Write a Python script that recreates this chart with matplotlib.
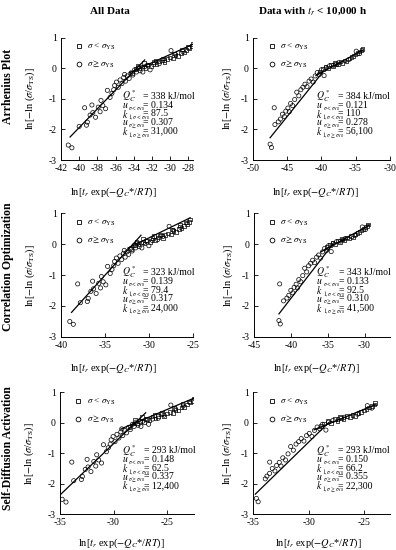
import numpy as np
import matplotlib.pyplot as plt
import matplotlib
from matplotlib.lines import Line2D

matplotlib.rcParams['font.family'] = ['Liberation Serif', 'DejaVu Serif']
matplotlib.rcParams['mathtext.fontset'] = 'stix'
matplotlib.rcParams['axes.unicode_minus'] = False

# ---- left column: all data ----
# y = ln[-ln(sigma/sigma_TS)] is the same in every row, only x moves with Q
y_circ_all = [-2.51, -2.60, -1.90, -1.29, -1.86, -1.76, -1.53, -1.45, -1.60, -1.27,
              -1.42, -1.05, -1.22, -1.32, -0.72, -0.95, -0.82, -0.56, -0.45, -0.62,
              -0.38, -0.50, -0.30, -0.42, -0.25, -0.33, -0.15, -0.22, -0.05, -0.12,
              0.02, -0.08, -0.12, 0.05, 0.10, -0.05, 0.12, 0.15, 0.25, 0.58,
              0.45, 0.55, -0.70, -0.20, -1.20]
x_circ_all_arr = [-41.2, -40.8, -40.0, -39.4, -39.2, -39.1, -38.8, -38.5, -38.2, -37.9,
                  -37.7, -37.6, -37.4, -37.1, -36.9, -36.6, -36.4, -36.1, -35.9, -35.7,
                  -35.5, -35.3, -35.1, -34.9, -34.7, -34.5, -34.3, -34.1, -33.9, -33.7,
                  -33.5, -33.3, -33.0, -32.8, -32.5, -32.2, -31.8, -31.2, -30.6, -29.9,
                  -29.4, -28.6, -36.2, -35.0, -38.6]
x_circ_all_co = [-39.0, -38.6, -37.8, -38.1, -37.0, -36.9, -36.6, -36.3, -36.0, -35.7,
                 -35.5, -35.4, -35.2, -34.9, -34.7, -34.4, -34.2, -33.9, -33.7, -33.5,
                 -33.3, -33.1, -32.9, -32.7, -32.5, -32.3, -32.1, -31.9, -31.7, -31.5,
                 -31.3, -31.1, -30.8, -30.6, -30.3, -30.0, -29.6, -29.0, -28.4, -27.7,
                 -27.2, -26.4, -34.0, -32.8, -36.4]
x_circ_all_sd = [-34.80, -34.44, -33.72, -33.90, -33.00, -32.91, -32.64, -32.38, -32.11, -31.84,
                 -31.66, -31.57, -31.39, -31.12, -30.94, -30.67, -30.49, -30.22, -30.04, -29.86,
                 -29.68, -29.50, -29.32, -29.14, -28.96, -28.78, -28.60, -28.42, -28.24, -28.07,
                 -27.89, -27.71, -27.44, -27.26, -26.99, -26.72, -26.36, -25.82, -25.28, -24.65,
                 -24.20, -23.49, -30.31, -29.23, -32.47]

y_sq_all = [-0.15, -0.02, 0.00, 0.06, 0.02, 0.12, 0.08, 0.20, 0.14, 0.22,
            0.28, 0.20, 0.30, 0.35, 0.32, 0.42, 0.40, 0.50, 0.52, 0.60,
            0.66, 0.72, 0.80, 0.70, 0.62, 0.48, 0.32, 0.26, 0.18, 0.08]
x_sq_all_arr = [-34.2, -33.8, -33.4, -33.1, -32.7, -32.4, -32.1, -31.8, -31.5, -31.2,
                -30.9, -30.6, -30.3, -30.0, -29.7, -29.4, -29.1, -28.8, -28.5, -28.2,
                -27.9, -27.6, -27.5, -28.0, -28.7, -29.6, -30.8, -31.6, -32.9, -33.6]
x_sq_all_co = [-32.0, -31.6, -31.2, -30.9, -30.5, -30.2, -29.9, -29.6, -29.3, -29.0,
               -28.7, -28.4, -28.1, -27.8, -27.5, -27.2, -26.9, -26.6, -26.3, -26.0,
               -25.7, -25.4, -25.3, -25.8, -26.5, -27.4, -28.6, -29.4, -30.7, -31.4]
x_sq_all_sd = [-28.51, -28.15, -27.80, -27.53, -27.17, -26.90, -26.63, -26.36, -26.09, -25.82,
               -25.55, -25.28, -25.01, -24.74, -24.47, -24.20, -23.93, -23.66, -23.39, -23.11,
               -22.84, -22.57, -22.48, -22.93, -23.57, -24.38, -25.46, -26.18, -27.35, -27.98]

# ---- right column: data with t_r < 10,000 h ----
y_circ_sub = [-2.48, -2.59, -1.84, -1.29, -1.75, -1.66, -1.50, -1.58, -1.40, -1.30,
              -1.42, -1.15, -1.22, -1.02, -0.78, -0.90, -0.70, -0.62, -0.52, -0.60,
              -0.42, -0.35, -0.45, -0.25, -0.14, -0.20, -0.05, -0.24, 0.02, 0.08,
              0.10, 0.18, 0.28, 0.56, 0.48]
x_circ_sub_arr = [-47.5, -47.3, -46.8, -46.9, -46.3, -46.0, -45.7, -45.4, -45.2, -44.9,
                  -44.7, -44.5, -44.2, -43.9, -43.6, -43.3, -43.0, -42.7, -42.4, -42.1,
                  -41.8, -41.5, -41.2, -40.9, -40.6, -40.3, -40.0, -39.6, -39.3, -38.8,
                  -38.2, -37.5, -36.0, -34.9, -34.4]
x_circ_sub_co = [-41.60, -41.42, -40.97, -41.50, -40.52, -40.26, -39.99, -39.72, -39.54, -39.27,
                 -39.09, -38.91, -38.64, -38.37, -38.11, -37.84, -37.57, -37.30, -37.03, -36.76,
                 -36.49, -36.22, -35.96, -35.69, -35.42, -35.15, -34.88, -34.52, -34.25, -33.80,
                 -33.27, -32.64, -31.30, -30.31, -29.86]
x_circ_sub_sd = [-34.70, -34.54, -33.90, -33.50, -33.75, -33.51, -33.27, -33.03, -32.88, -32.64,
                 -32.48, -32.32, -32.08, -31.85, -31.61, -31.37, -31.13, -30.89, -30.66, -30.42,
                 -30.18, -29.94, -29.70, -29.47, -29.23, -28.99, -28.75, -28.44, -28.20, -27.80,
                 -27.33, -26.77, -25.58, -24.71, -24.31]

y_sq_sub = [-0.10, -0.02, 0.05, 0.00, 0.12, 0.06, 0.15, 0.12, 0.22, 0.18,
            0.26, 0.22, 0.32, 0.36, 0.40, 0.45, 0.50, 0.55, 0.60, 0.64, 0.18]
x_sq_sub_arr = [-40.2, -39.8, -39.4, -39.0, -38.6, -38.3, -37.9, -37.6, -37.2, -36.9,
                -36.6, -36.3, -35.9, -35.6, -35.3, -35.0, -34.7, -34.4, -34.1, -34.0, -38.0]
x_sq_sub_co = [-35.06, -34.70, -34.34, -33.98, -33.63, -33.36, -33.00, -32.73, -32.37, -32.10,
               -31.83, -31.56, -31.21, -30.94, -30.67, -30.40, -30.13, -29.86, -29.59, -29.50, -33.09]
x_sq_sub_sd = [-28.91, -28.59, -28.28, -27.96, -27.64, -27.40, -27.09, -26.85, -26.53, -26.29,
               -26.06, -25.82, -25.50, -25.27, -25.03, -24.79, -24.55, -24.31, -24.07, -23.99, -27.17]

# fitted parameters printed in each panel (arr, co, sd) x (all, sub)
Qc = [[338, 384], [323, 343], [293, 293]]
u_lo = [[0.134, 0.121], [0.139, 0.133], [0.148, 0.150]]
k_lo = [[87.5, 110], [79.4, 92.5], [62.5, 66.2]]
u_hi = [[0.307, 0.278], [0.317, 0.310], [0.337, 0.355]]
k_hi = [[31000, 56100], [24000, 41500], [12400, 22300]]
# x range of the two fit lines
steep_x = [[(-41.0, -32.8), (-47.5, -39.7)], [(-38.8, -30.9), (-41.6, -34.3)], [(-34.9, -27.0), (-34.8, -28.2)]]
flat_x = [[(-34.5, -27.5), (-40.8, -33.9)], [(-32.4, -25.3), (-35.9, -29.4)], [(-29.3, -22.5), (-29.5, -24.0)]]

xlims = [[(-42, -27.5), (-50, -30)], [(-40, -25), (-45, -26.6)], [(-35, -22.5), (-35, -22.7)]]
xticks = [[np.arange(-42, -27, 2), np.arange(-50, -29, 5)],
          [np.arange(-40, -24, 5), np.arange(-45, -29, 5)],
          [np.arange(-35, -24, 5), np.arange(-35, -24, 5)]]

row_names = ['Arrhenius Plot', 'Correlation Optimization', 'Self-Diffusion Activation']
col_names = ['All Data', r'Data with $t_r$ < 10,000 h']

xc = [[x_circ_all_arr, x_circ_sub_arr], [x_circ_all_co, x_circ_sub_co], [x_circ_all_sd, x_circ_sub_sd]]
xs = [[x_sq_all_arr, x_sq_sub_arr], [x_sq_all_co, x_sq_sub_co], [x_sq_all_sd, x_sq_sub_sd]]
yc = [y_circ_all, y_circ_sub]
ys = [y_sq_all, y_sq_sub]

fig = plt.figure(figsize=(3.96, 5.5), dpi=100)

rects = [[[0.154, 0.709, 0.333, 0.2224], [0.639, 0.709, 0.345, 0.2224]],
         [[0.154, 0.388, 0.333, 0.224], [0.641, 0.388, 0.343, 0.224]],
         [[0.1515, 0.065, 0.338, 0.2218], [0.639, 0.065, 0.345, 0.2218]]]
xlab_x = [[0.40, 0.46], [0.40, 0.46], [0.46, 0.48]]
xlab_y = [-0.21, -0.2, -0.185]
ylab_x = [-0.18, -0.14]

# pieces of the parameter names: main letter + small subscript
par_letter = ['u', 'k', 'u', 'k']
par_sub = [r'$\sigma<\sigma_{\rm YS}$', r'$1,\sigma<\sigma_{\rm YS}$',
           r'$\sigma\geq\sigma_{\rm YS}$', r'$1,\sigma\geq\sigma_{\rm YS}$']

for r in range(3):
    for c in range(2):
        ax = fig.add_axes(rects[r][c])
        ax.scatter(xc[r][c], yc[c], s=9, facecolors='none', edgecolors='black', linewidths=0.5, zorder=3)
        ax.scatter(xs[r][c], ys[c], s=7, marker='s', facecolors='none', edgecolors='black', linewidths=0.5, zorder=3)

        # fit lines: y = u x + ln k
        xx = np.array(steep_x[r][c])
        ax.plot(xx, u_hi[r][c] * xx + np.log(k_hi[r][c]), color='black', lw=0.9, zorder=4)
        xx = np.array(flat_x[r][c])
        ax.plot(xx, u_lo[r][c] * xx + np.log(k_lo[r][c]), color='black', lw=0.9, zorder=4)

        ax.set_xlim(xlims[r][c])
        ax.set_ylim(-3, 1)
        ax.set_xticks(xticks[r][c])
        ax.set_yticks([-3, -2, -1, 0, 1])
        ax.tick_params(direction='in', length=3, width=0.6, labelsize=7, pad=3)
        for s in ['top', 'right']:
            ax.spines[s].set_visible(False)
        for s in ['left', 'bottom']:
            ax.spines[s].set_linewidth(0.7)

        ax.set_ylabel(r'ln[$-$ln ($\sigma$/$\sigma_{\rm TS}$)]', fontsize=7.5)
        ax.yaxis.set_label_coords(ylab_x[c], 0.5)
        ax.set_xlabel(r'ln[$t_r$ exp($-Q_C$*/$RT$)]', fontsize=7.5)
        ax.xaxis.set_label_coords(xlab_x[r][c], xlab_y[r])

        handles = [Line2D([], [], ls='none', marker='s', ms=3.2, mfc='none', mec='black', mew=0.6),
                   Line2D([], [], ls='none', marker='o', ms=3.4, mfc='none', mec='black', mew=0.6)]
        ax.legend(handles, [r'$\sigma$ < $\sigma_{\rm YS}$', r'$\sigma \geq \sigma_{\rm YS}$'],
                  loc='upper left', bbox_to_anchor=(0.05, 1.03), frameon=False, fontsize=6.5,
                  handlelength=0.8, handletextpad=0.5, labelspacing=0.75)

        vals = ['= %d kJ/mol' % Qc[r][c], '= %.3f' % u_lo[r][c], '= %s' % format(k_lo[r][c], 'g'),
                '= %.3f' % u_hi[r][c], '= {:,}'.format(k_hi[r][c])]
        x_name, x_val = 0.46, 0.625
        ax.text(x_name, 0.52, r'$Q_C^*$', transform=ax.transAxes, fontsize=7, va='center')
        ax.text(x_val, 0.52, vals[0], transform=ax.transAxes, fontsize=7, va='center')
        for i in range(4):
            yy = 0.52 - (i + 1) * 0.071
            letter = ax.text(x_name, yy, r'$%s$' % par_letter[i], transform=ax.transAxes,
                             fontsize=7, va='center')
            # subscript placed right after the letter
            ax.annotate(par_sub[i], xy=(1.0, 0.2), xycoords=letter, fontsize=4,
                        ha='left', va='center')
            ax.text(x_val, yy, vals[i + 1], transform=ax.transAxes, fontsize=7, va='center')

row_y = [0.842, 0.515, 0.186]
for r in range(3):
    fig.text(0.02, row_y[r], row_names[r], rotation=90, fontsize=8.5, fontweight='bold',
             ha='center', va='center')
fig.text(0.278, 0.98, col_names[0], fontsize=8, fontweight='bold', ha='center', va='center')
fig.text(0.79, 0.98, col_names[1], fontsize=8, fontweight='bold', ha='center', va='center')

fig.savefig('out.png', dpi=100)
